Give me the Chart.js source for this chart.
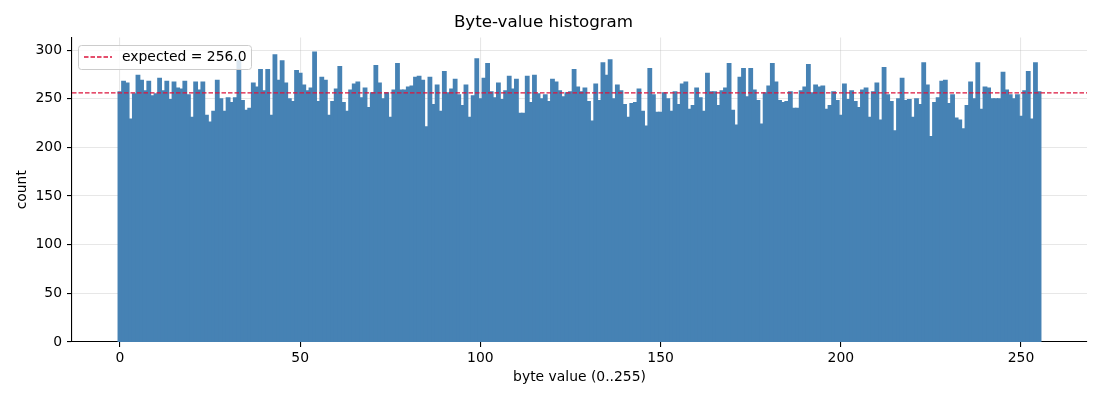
<!DOCTYPE html>
<html>
<head>
<meta charset="utf-8">
<script src="https://cdn.jsdelivr.net/npm/chart.js@4/dist/chart.umd.min.js"></script>
<style>
  html, body { margin: 0; padding: 0; background: #fff; }
  #wrap { width: 1100px; height: 400px; position: relative; }
</style>
</head>
<body>
<div id="wrap"><canvas id="c"></canvas></div>
<script>
// ---- data ----
const byteValues = Array.from({length: 256}, (_, i) => i);
const counts = [
  257, 268, 266, 229, 255, 274, 269, 258, 268, 253, 255, 271, 258, 268, 249, 267, 261, 260, 268, 254, 231, 267, 259, 267, 233, 226, 237, 269, 250, 237, 251, 246, 251,
  289, 248, 238, 240, 266, 262, 280, 258, 280, 233, 295, 269, 289, 266, 250, 247, 279, 276, 264, 258, 261, 298, 247, 272, 269, 233, 247, 260, 283, 246, 237, 259,
  265, 267, 251, 261, 241, 256, 284, 266, 250, 256, 231, 259, 286, 259, 259, 262, 263, 272, 273, 269, 221, 272, 244, 264, 237, 278, 256, 260, 270, 254, 243, 264,
  231, 253, 291, 250, 271, 286, 257, 251, 266, 249, 258, 273, 260, 270, 235, 235, 273, 246, 274, 255, 250, 254, 247, 270, 267, 258, 252, 256, 257, 280, 262, 257,
  261, 247, 227, 265, 248, 287, 274, 290, 250, 264, 258, 244, 231, 245, 246, 260, 237, 222, 281, 254, 236, 236, 256, 250, 237, 257, 244, 265, 267, 239, 243, 261,
  251, 237, 276, 257, 257, 243, 258, 261, 286, 238, 223, 272, 281, 252, 281, 259, 248, 224, 256, 263, 286, 267, 248, 246, 247, 257, 240, 240, 258, 262, 285, 256, 264,
  262, 263, 239, 243, 257, 248, 233, 265, 249, 258, 247, 241, 259, 261, 231, 257, 266, 228, 282, 254, 247, 217, 250, 271, 248, 249, 231, 250, 244, 287, 264, 211,
  246, 251, 268, 269, 245, 254, 230, 228, 219, 243, 267, 250, 287, 239, 262, 261, 250, 250, 250, 277, 259, 254, 250, 254, 232, 258, 278, 229, 287, 257
];
const expected = 256.0;
const xTicks = [0, 50, 100, 150, 200, 250];
const yTicks = [0, 50, 100, 150, 200, 250, 300];
const titleText = 'Byte-value histogram';
const xLabel = 'byte value (0..255)';
const yLabel = 'count';
const legendLabel = 'expected = ' + expected.toFixed(1);

// ---- derived axis limits (matplotlib-like 5% margins) ----
const xMinData = -0.5, xMaxData = 255.5;
const xPad = (xMaxData - xMinData) * 0.05;
const xMin = xMinData - xPad, xMax = xMaxData + xPad;
const yMax = Math.max(...counts) * 1.05;

const FONT = "'DejaVu Sans', 'Liberation Sans', sans-serif";
const gridColor = 'rgba(176,176,176,0.3)';

const legendPlugin = {
  id: 'boxLegend',
  afterDraw(chart) {
    const ctx = chart.ctx;
    const x = 78.5, y = 45.5, w = 173, h = 24, r = 3;
    ctx.save();
    ctx.beginPath();
    ctx.moveTo(x + r, y);
    ctx.lineTo(x + w - r, y);
    ctx.quadraticCurveTo(x + w, y, x + w, y + r);
    ctx.lineTo(x + w, y + h - r);
    ctx.quadraticCurveTo(x + w, y + h, x + w - r, y + h);
    ctx.lineTo(x + r, y + h);
    ctx.quadraticCurveTo(x, y + h, x, y + h - r);
    ctx.lineTo(x, y + r);
    ctx.quadraticCurveTo(x, y, x + r, y);
    ctx.closePath();
    ctx.fillStyle = 'rgba(255,255,255,0.8)';
    ctx.fill();
    ctx.strokeStyle = '#cccccc';
    ctx.lineWidth = 1;
    ctx.stroke();
    ctx.beginPath();
    ctx.setLineDash([4.5, 2]);
    ctx.strokeStyle = '#dc143c';
    ctx.lineWidth = 1.5;
    ctx.moveTo(84, 57);
    ctx.lineTo(112, 57);
    ctx.stroke();
    ctx.setLineDash([]);
    ctx.fillStyle = '#000';
    ctx.font = '13.9px ' + FONT;
    ctx.textBaseline = 'middle';
    ctx.textAlign = 'left';
    ctx.fillText(legendLabel, 122, 57.5);
    ctx.restore();
  }
};

new Chart(document.getElementById('c'), {
  data: {
    datasets: [
      {
        type: 'line',
        label: legendLabel,
        data: [{x: xMin, y: expected}, {x: xMax, y: expected}],
        borderColor: '#dc143c',
        borderWidth: 1.3,
        borderDash: [4.5, 2],
        pointRadius: 0,
        fill: false,
        order: 0
      },
      {
        type: 'bar',
        label: 'counts',
        data: byteValues.map((v, i) => ({x: v, y: counts[i]})),
        backgroundColor: 'steelblue',
        borderWidth: 0,
        barPercentage: 1.0,
        categoryPercentage: 1.0,
        inflateAmount: 0.6,
        grouped: false,
        order: 1
      }
    ]
  },
  options: {
    responsive: true,
    maintainAspectRatio: false,
    animation: false,
    layout: { padding: { left: 0, right: 13, top: 0, bottom: 0 } },
    plugins: {
      legend: { display: false },
      tooltip: { enabled: false },
      title: {
        display: true,
        text: titleText,
        color: '#000',
        font: { family: FONT, size: 16.7, weight: 'normal' },
        padding: { top: 13, bottom: 4.5 }
      }
    },
    scales: {
      x: {
        type: 'linear',
        min: xMin,
        max: xMax,
        offset: false,
        z: 1,
        afterBuildTicks: s => { s.ticks = xTicks.map(v => ({value: v})); },
        afterFit: s => { s.height = 58; },
        ticks: { color: '#000', font: { family: FONT, size: 13.9 }, padding: 3, maxRotation: 0, callback: v => String(v) },
        grid: { offset: false, color: gridColor, lineWidth: 1.1, tickColor: '#000', tickLength: 5, tickWidth: 1.1 },
        border: { display: true, color: '#000', width: 1.1 },
        title: { display: true, text: xLabel, color: '#000', font: { family: FONT, size: 13.9 }, padding: { top: 0, bottom: 14.7 } }
      },
      y: {
        type: 'linear',
        min: 0,
        max: yMax,
        z: 1,
        afterBuildTicks: s => { s.ticks = yTicks.map(v => ({value: v})); },
        afterFit: s => { s.width = 72; },
        ticks: { color: '#000', font: { family: FONT, size: 13.9 }, padding: 5, callback: v => String(v) },
        grid: { color: gridColor, lineWidth: 1.1, tickColor: '#000', tickLength: 5, tickWidth: 1.1 },
        border: { display: true, color: '#000', width: 1.1 },
        title: { display: true, text: yLabel, color: '#000', font: { family: FONT, size: 13.9 }, padding: { top: 13.7, bottom: 0 } }
      }
    }
  },
  plugins: [legendPlugin]
});
</script>
</body>
</html>
